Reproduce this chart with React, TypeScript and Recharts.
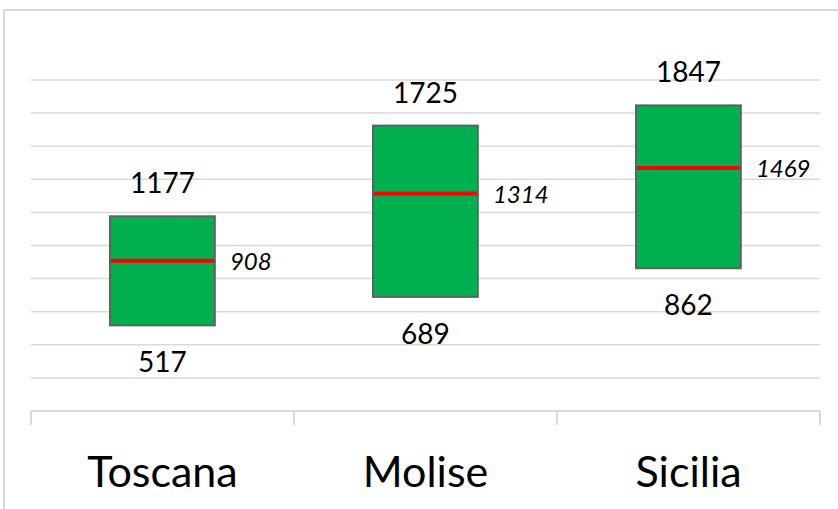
import React from 'react';
import { ComposedChart, Bar, XAxis, YAxis, CartesianGrid, LabelList } from 'recharts';

const regions = ['Toscana', 'Molise', 'Sicilia'];
const minValues = [517, 689, 862];
const medianValues = [908, 1314, 1469];
const maxValues = [1177, 1725, 1847];
const yTicks = [0, 200, 400, 600, 800, 1000, 1200, 1400, 1600, 1800, 2000];

const data = regions.map((region, i) => ({
  region,
  min: minValues[i],
  median: medianValues[i],
  max: maxValues[i],
  base: minValues[i],
  lower: medianValues[i] - minValues[i],
  upper: maxValues[i] - medianValues[i],
}));

const FONT = 'Lato, "Open Sans", sans-serif';
const GRID = '#d9d9d9';
const GREEN = '#00b050';
const EDGE = '#5f5f5f';
const RED = '#ff0000';

const LowerShape = (props: any) => {
  const { x, y, width, height } = props;
  return (
    <rect x={x} y={y} width={width} height={height} fill={GREEN} stroke={EDGE} strokeWidth={1.8} />
  );
};

const UpperShape = (props: any) => {
  const { x, y, width, height } = props;
  return (
    <g>
      <rect x={x} y={y} width={width} height={height} fill={GREEN} stroke={EDGE} strokeWidth={1.8} />
      <line x1={x + 1} x2={x + width - 1} y1={y + height} y2={y + height} stroke={RED} strokeWidth={4} />
    </g>
  );
};

const MaxLabel = (props: any) => {
  const { viewBox, value } = props;
  const vb = viewBox || props;
  return (
    <text x={vb.x + vb.width / 2} y={vb.y - 23} textAnchor="middle" fontSize={28} fontFamily={FONT} fill="#000">
      {value}
    </text>
  );
};

const MedianLabel = (props: any) => {
  const { viewBox, value } = props;
  const vb = viewBox || props;
  return (
    <text x={vb.x + vb.width + 15} y={vb.y + vb.height + 9} textAnchor="start" fontSize={24} fontStyle="italic" fontFamily={FONT} fill="#000">
      {value}
    </text>
  );
};

const MinLabel = (props: any) => {
  const { viewBox, value } = props;
  const vb = viewBox || props;
  return (
    <text x={vb.x + vb.width / 2} y={vb.y + vb.height + 47} textAnchor="middle" fontSize={28} fontFamily={FONT} fill="#000">
      {value}
    </text>
  );
};

const CategoryTick = (props: any) => {
  const { x, y, payload, index } = props;
  const half = payload && payload.offset != null ? payload.offset : 0;
  return (
    <g>
      <line x1={x - half} x2={x - half} y1={y} y2={y + 14} stroke={GRID} strokeWidth={2} />
      {index === regions.length - 1 && (
        <line x1={x + half} x2={x + half} y1={y} y2={y + 14} stroke={GRID} strokeWidth={2} />
      )}
      <text x={x} y={y + 76} textAnchor="middle" fontSize={43} fontFamily={FONT} fill="#000">
        {payload.value}
      </text>
    </g>
  );
};

export default function App() {
  return (
    <div style={{ position: 'absolute', left: 0, top: 0, width: 838, height: 509, background: '#fff', overflow: 'hidden' }}>
      <div
        style={{
          position: 'absolute',
          left: 3,
          top: 9,
          width: 850,
          height: 520,
          borderLeft: `2px solid ${GRID}`,
          borderTop: `2px solid ${GRID}`,
        }}
      />
      <div style={{ position: 'absolute', left: 0, top: 0 }}>
        <ComposedChart
          width={838}
          height={509}
          data={data}
          margin={{ top: 80, right: 18, left: 31, bottom: 0 }}
          barCategoryGap="30%"
        >
          <CartesianGrid vertical={false} stroke={GRID} strokeWidth={1.5} />
          <YAxis hide domain={[0, 2000]} ticks={yTicks} type="number" />
          <XAxis
            dataKey="region"
            height={98}
            axisLine={{ stroke: GRID, strokeWidth: 2 }}
            tickLine={false}
            tickSize={0}
            tickMargin={0}
            tick={<CategoryTick />}
            interval={0}
          />
          <Bar dataKey="base" stackId="box" fill="transparent" isAnimationActive={false} />
          <Bar dataKey="lower" stackId="box" shape={<LowerShape />} isAnimationActive={false}>
            <LabelList dataKey="min" content={<MinLabel />} />
          </Bar>
          <Bar dataKey="upper" stackId="box" shape={<UpperShape />} isAnimationActive={false}>
            <LabelList dataKey="max" content={<MaxLabel />} />
            <LabelList dataKey="median" content={<MedianLabel />} />
          </Bar>
        </ComposedChart>
      </div>
    </div>
  );
}
